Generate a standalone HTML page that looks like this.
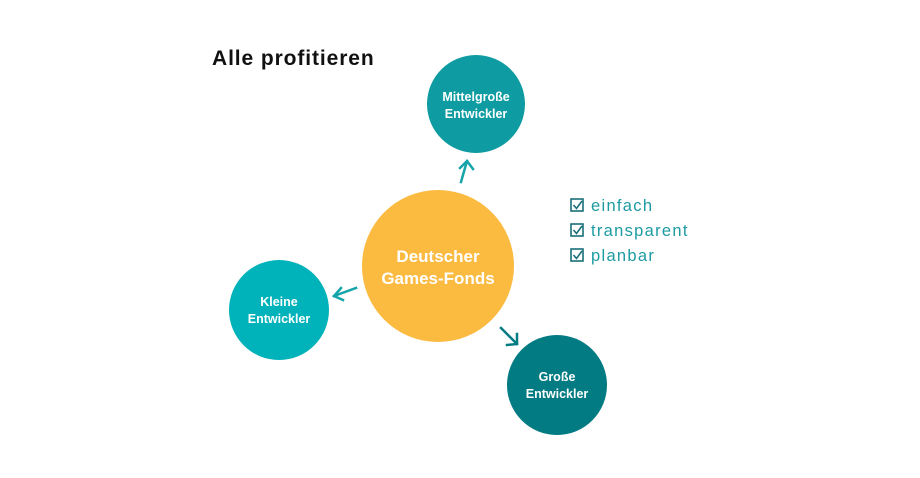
<!DOCTYPE html>
<html><head><meta charset="utf-8"><style>
html,body{margin:0;padding:0;background:#fff;}
svg{display:block;font-family:"Liberation Sans",sans-serif;}
</style></head><body>
<svg width="920" height="478" viewBox="0 0 920 478" xmlns="http://www.w3.org/2000/svg">
<text x="212" y="65" font-size="21" font-weight="bold" fill="#111" letter-spacing="0.9">Alle profitieren</text>
<circle cx="476" cy="104" r="49" fill="#0E9CA2"/>
<text x="476" y="101" font-size="12.5" font-weight="bold" fill="#fff" text-anchor="middle">Mittelgroße</text>
<text x="476" y="118" font-size="12.5" font-weight="bold" fill="#fff" text-anchor="middle">Entwickler</text>
<circle cx="438" cy="266" r="76" fill="#FBBA40"/>
<text x="438" y="262" font-size="17" font-weight="bold" fill="#fff" text-anchor="middle">Deutscher</text>
<text x="438" y="284" font-size="17" font-weight="bold" fill="#fff" text-anchor="middle">Games-Fonds</text>
<circle cx="279" cy="310" r="50" fill="#00B2B9"/>
<text x="279" y="306" font-size="12.5" font-weight="bold" fill="#fff" text-anchor="middle">Kleine</text>
<text x="279" y="323" font-size="12.5" font-weight="bold" fill="#fff" text-anchor="middle">Entwickler</text>
<circle cx="557" cy="385" r="50" fill="#037B83"/>
<text x="557" y="381" font-size="12.5" font-weight="bold" fill="#fff" text-anchor="middle">Große</text>
<text x="557" y="398" font-size="12.5" font-weight="bold" fill="#fff" text-anchor="middle">Entwickler</text>
<g stroke="#14A4AA" stroke-width="2.5" fill="none" stroke-linecap="square">
<path d="M461 182 L467 161 M460 168 L467 161 L473 169"/>
<path d="M356 288 L334 296 M341 288 L334 296 L343 300"/>
</g>
<g stroke="#037B83" stroke-width="2.5" fill="none" stroke-linecap="square">
<path d="M501 328 L517 344 M507 345 L517 344 L517 334"/>
</g>
<g fill="none" stroke="#1A7078" stroke-width="1.6">
<rect x="571" y="199" width="12" height="12"/>
<rect x="571" y="224" width="12" height="12"/>
<rect x="571" y="249" width="12" height="12"/>
<path d="M573.5 205 L576.5 208.5 L582 201 M573.5 230 L576.5 233.5 L582 226 M573.5 255 L576.5 258.5 L582 251"/>
</g>
<g font-size="16.5" fill="#1C9BA1" letter-spacing="1.3">
<text x="591" y="211">einfach</text>
<text x="591" y="236">transparent</text>
<text x="591" y="261">planbar</text>
</g>
</svg>
</body></html>
